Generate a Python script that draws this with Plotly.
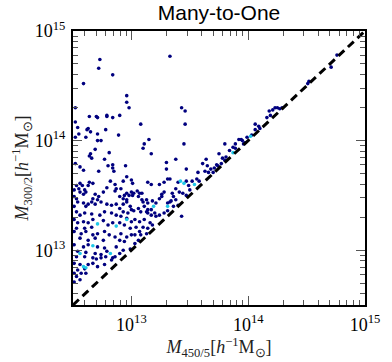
import plotly.graph_objects as go

# log10 masses: (log M_450/5, log M_300/2)
upper_pts = [
    (12.73, 14.74), (12.72, 14.66), (12.84, 14.60), (12.59, 14.52), (12.96, 14.41),
    (12.96, 14.35), (12.98, 14.30), (12.52, 14.30), (12.64, 14.22), (12.70, 14.22),
    (12.71, 14.21), (12.79, 14.23), (12.79, 14.22), (12.84, 14.21), (12.90, 14.23),
    (13.08, 14.15), (12.52, 14.17), (12.54, 14.12), (12.62, 14.10), (12.63, 14.11),
    (12.65, 14.08), (12.78, 14.10), (12.71, 14.06), (12.55, 14.06), (12.89, 14.05),
    (13.33, 14.77), (13.43, 14.30), (13.46, 14.27), (13.46, 14.15), (13.45, 13.97),
    (13.38, 13.83), (13.64, 13.83), (13.75, 13.88), (13.80, 13.97), (13.15, 14.01),
    (13.11, 13.97), (13.10, 13.93), (13.17, 13.88), (13.30, 13.80), (13.30, 13.74),
    (13.47, 13.74),
]

diag_pts = [
    (14.52, 14.54), (14.51, 14.52), (14.71, 14.67), (14.76, 14.78), (14.23, 14.30),
    (14.25, 14.30), (14.27, 14.29), (14.29, 14.30), (14.21, 14.28), (14.16, 14.21),
    (14.19, 14.23), (14.18, 14.27), (14.06, 14.10), (14.09, 14.13), (14.06, 14.15),
    (14.10, 14.11), (14.03, 14.05), (13.99, 14.03), (13.95, 14.00), (13.96, 13.97),
    (13.97, 13.98), (13.92, 14.01), (13.89, 13.93), (13.89, 13.97), (13.78, 13.84),
    (13.81, 13.85), (13.80, 13.82), (13.77, 13.79), (13.74, 13.77), (13.71, 13.75),
    (13.61, 13.79), (13.65, 13.77), (13.68, 13.74), (13.70, 13.71), (13.63, 13.72),
    (13.66, 13.71), (13.57, 13.71), (13.56, 13.65), (13.58, 13.63), (13.84, 13.91),
    (13.87, 13.94), (13.94, 14.01), (13.73, 13.78),
]

mid_pts = [
    (13.14, 13.62), (13.17, 13.60), (13.24, 13.60), (13.28, 13.62), (13.31, 13.65),
    (13.33, 13.65), (13.40, 13.62), (13.47, 13.63), (13.49, 13.59), (13.52, 13.63),
    (13.38, 13.56), (13.41, 13.53), (13.44, 13.52), (13.47, 13.50), (13.50, 13.55),
    (13.35, 13.52), (13.36, 13.49), (13.38, 13.46), (13.34, 13.45), (13.31, 13.43),
    (13.28, 13.53), (13.26, 13.51), (13.05, 13.54), (13.07, 13.52), (13.09, 13.52),
    (13.02, 13.52), (13.06, 13.49), (13.09, 13.46), (13.13, 13.46), (13.21, 13.43),
    (13.24, 13.47), (13.26, 13.49), (13.11, 13.40), (13.14, 13.37), (13.17, 13.37),
    (13.13, 13.35), (13.02, 13.36), (13.06, 13.38), (13.36, 13.40), (13.40, 13.41),
    (13.31, 13.36), (13.10, 13.44), (13.14, 13.43), (13.18, 13.45), (13.33, 13.44),
    (13.08, 13.35), (13.14, 13.34), (13.17, 13.32), (13.20, 13.34), (13.21, 13.31),
    (13.24, 13.32), (13.28, 13.34), (13.43, 13.31), (13.03, 13.28), (13.07, 13.26),
    (13.11, 13.28), (13.16, 13.25), (13.18, 13.23), (13.04, 13.21), (13.10, 13.21),
    (13.14, 13.20), (13.07, 13.17), (13.13, 13.15), (13.03, 13.14), (13.08, 13.14),
    (13.06, 13.09), (13.03, 13.06),
]

left_pts = [
    (12.52, 14.03), (12.61, 14.03), (12.71, 14.00), (12.74, 14.00), (12.69, 13.92),
    (12.65, 13.88), (12.64, 13.86), (12.66, 13.84), (12.81, 13.89), (12.77, 13.83),
    (12.52, 13.79), (12.56, 13.76), (12.59, 13.73), (12.72, 13.72), (12.80, 13.77),
    (12.84, 13.78), (12.84, 13.75), (12.85, 13.72), (12.95, 13.77), (12.96, 13.67),
    (13.00, 13.64), (13.01, 13.61), (12.82, 13.63), (12.86, 13.60), (12.87, 13.56),
    (12.86, 13.54), (12.91, 13.56), (12.93, 13.63), (12.96, 13.52), (12.94, 13.50),
    (12.98, 13.50), (13.00, 13.53), (13.01, 13.50), (12.79, 13.57), (12.76, 13.53),
    (12.64, 13.62), (12.67, 13.61), (12.63, 13.59), (12.56, 13.61), (12.58, 13.59),
    (12.53, 13.59), (12.55, 13.56), (12.56, 13.53), (12.59, 13.51), (12.61, 13.53),
    (12.60, 13.55), (12.51, 13.55), (12.51, 13.49), (12.53, 13.47), (12.69, 13.51),
    (12.72, 13.49), (12.67, 13.47), (12.71, 13.46), (12.90, 13.49), (12.93, 13.47),
    (12.96, 13.46),
]

low_pts = [
    (12.54, 13.44), (12.59, 13.43), (12.63, 13.42), (12.66, 13.44), (12.69, 13.42),
    (12.74, 13.44), (12.79, 13.42), (12.83, 13.41), (12.87, 13.42), (12.93, 13.42),
    (12.96, 13.44), (12.99, 13.40), (12.51, 13.40), (12.61, 13.40), (12.90, 13.38),
    (12.53, 13.35), (12.56, 13.32), (12.60, 13.34), (12.66, 13.33), (12.73, 13.32),
    (12.77, 13.35), (12.83, 13.34), (12.87, 13.32), (12.93, 13.35), (12.97, 13.34),
    (13.00, 13.37), (12.91, 13.31), (12.96, 13.29), (12.51, 13.28), (12.54, 13.25),
    (12.59, 13.26), (12.63, 13.25), (12.67, 13.28), (12.76, 13.27), (12.80, 13.23),
    (12.84, 13.25), (12.90, 13.25), (12.94, 13.23), (13.00, 13.26), (12.99, 13.20),
    (12.53, 13.20), (12.60, 13.20), (12.66, 13.21), (12.51, 13.17), (12.57, 13.15),
    (12.61, 13.17), (12.67, 13.14), (12.71, 13.15), (12.77, 13.17), (12.81, 13.14),
    (12.86, 13.12), (12.91, 13.15), (12.96, 13.12), (13.00, 13.14), (12.56, 13.11),
    (12.63, 13.09), (12.69, 13.11), (12.76, 13.09), (12.90, 13.09), (12.94, 13.08),
    (12.51, 13.05), (12.59, 13.03), (12.63, 13.05), (12.71, 13.03), (12.77, 13.02),
    (12.87, 13.03), (12.93, 13.00), (12.99, 13.01), (12.54, 12.99), (12.61, 12.98),
    (12.69, 12.97), (12.74, 12.96), (12.79, 12.99), (12.90, 12.97), (12.60, 12.94),
    (12.67, 12.93), (12.84, 12.93), (12.53, 12.94), (12.70, 12.92), (12.74, 12.93),
    (12.78, 12.94), (12.83, 12.91), (12.86, 12.94), (12.67, 12.88), (12.71, 12.85),
    (12.77, 12.87), (12.51, 12.88), (12.56, 12.87), (12.60, 12.83), (12.54, 12.82),
    (12.51, 12.79), (12.57, 12.79), (12.53, 12.76), (12.56, 12.73), (12.51, 12.71),
    (12.61, 12.79), (12.63, 12.87),
]

cyan_pts = [
    (14.02, 14.04), (13.87, 13.89), (13.42, 13.63), (13.54, 13.60), (13.45, 13.61),
    (13.19, 13.40), (13.31, 13.40), (12.71, 13.24), (12.87, 13.22), (12.96, 13.28),
    (12.67, 13.04), (12.82, 12.97), (12.56, 12.97), (12.61, 12.84), (12.59, 12.85),
]

one_to_one = [10 ** 12.5, 1e15]

navy = upper_pts + diag_pts + mid_pts + left_pts + low_pts
nx = [10 ** a for a, b in navy]
ny = [10 ** b for a, b in navy]
cx = [10 ** a for a, b in cyan_pts]
cy = [10 ** b for a, b in cyan_pts]

fig = go.Figure()
fig.add_trace(go.Scatter(
    x=nx, y=ny, mode="markers",
    marker=dict(color="#00007f", size=3.6, line=dict(width=0)),
    showlegend=False,
))
fig.add_trace(go.Scatter(
    x=cx, y=cy, mode="markers",
    marker=dict(color="#1ec8e8", size=3.6, line=dict(width=0)),
    showlegend=False,
))
fig.add_trace(go.Scatter(
    x=one_to_one, y=one_to_one, mode="lines",
    line=dict(color="black", width=3, dash="8px,5px"),
    showlegend=False,
))

minor_vals = [k * 10 ** e for e in (12, 13, 14) for k in range(2, 10)]
major_vals = [1e13, 1e14, 1e15]
major_text = ["10<sup>13</sup>", "10<sup>14</sup>", "10<sup>15</sup>"]

axis_common = dict(
    type="log",
    range=[12.5, 15],
    automargin=False,
    showgrid=False,
    zeroline=False,
    showline=True,
    linecolor="black",
    linewidth=2,
    mirror="allticks",
    ticks="inside",
    ticklen=9,
    tickwidth=1,
    tickcolor="#555555",
    tickmode="array",
    tickvals=major_vals,
    ticktext=major_text,
    tickfont=dict(family="Liberation Serif", size=18, color="black"),
    minor=dict(ticks="inside", ticklen=5, tickwidth=1, tickcolor="#555555",
               tickmode="array", tickvals=minor_vals),
)

fig.update_xaxes(
    **axis_common,
    ticklabelstandoff=2,
    title=dict(text="<i>M</i><sub>450/5</sub>[<i>h</i><sup>−1</sup>M<sub>⊙</sub>]",
               font=dict(family="Liberation Serif", size=18, color="#222222"),
               standoff=0),
)
fig.update_yaxes(
    **axis_common,
    ticklabelstandoff=2,
    title=dict(text="<i>M</i><sub>300/2</sub>[<i>h</i><sup>−1</sup>M<sub>⊙</sub>]",
               font=dict(family="Liberation Serif", size=18, color="#222222"),
               standoff=0),
)

fig.update_layout(
    width=392,
    height=362,
    margin=dict(l=73, r=27, t=31, b=57, autoexpand=False),
    paper_bgcolor="white",
    plot_bgcolor="white",
    title=dict(text="Many-to-One", x=0.5, xref="paper", xanchor="center",
               y=0.964, yref="container", yanchor="middle",
               font=dict(family="Liberation Sans", size=21, color="black")),
)

# the page body has a default 8px margin; drop it so the figure sits at 0,0
fig.write_html(
    "out.html",
    config={"displayModeBar": False},
    post_script="document.body.style.margin='0';",
)
